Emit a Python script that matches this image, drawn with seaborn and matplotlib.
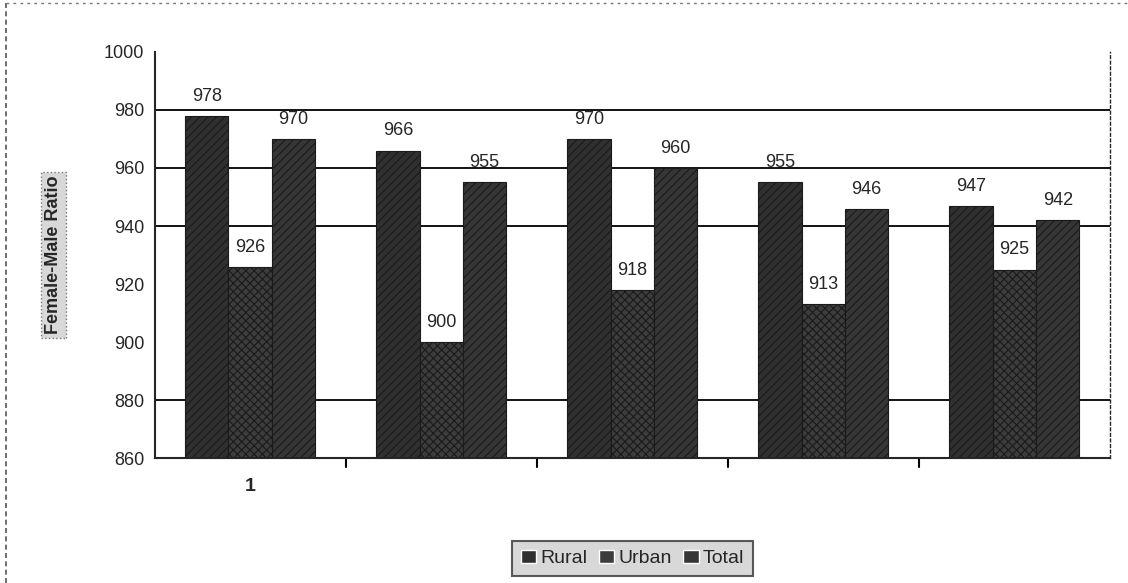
import matplotlib
matplotlib.use('Agg')
import matplotlib.pyplot as plt
import pandas as pd
import seaborn as sns

# data
groups = ['1', '2', '3', '4', '5']
rural = [978, 966, 970, 955, 947]
urban = [926, 900, 918, 913, 925]
total = [970, 955, 960, 946, 942]
series = ['Rural', 'Urban', 'Total']

df = pd.DataFrame({
    'group': groups * 3,
    'kind': [s for s in series for _ in groups],
    'ratio': rural + urban + total,
})

sns.set_style('white')
plt.rcParams['font.family'] = ['Liberation Sans', 'DejaVu Sans']
plt.rcParams['hatch.color'] = '#c4c4c4'
plt.rcParams['hatch.linewidth'] = 0.8

fig = plt.figure(figsize=(11.28, 5.83), dpi=100)
ax = fig.add_axes([0.137, 0.214, 0.847, 0.697])

# gridlines (only the ones visible in the scan)
for g in [980, 960, 940, 880]:
    ax.axhline(g, color='black', lw=1.3, zorder=0)

sns.barplot(data=df, x='group', y='ratio', hue='kind', hue_order=series,
            palette=['#303030', '#3c3c3c', '#363636'], width=0.68,
            saturation=1, ax=ax, zorder=2)

hatches = ['////', 'xxxx', '////']
for cont, h in zip(ax.containers, hatches):
    for bar in cont:
        bar.set_hatch(h)
        bar.set_edgecolor('#1a1a1a')
        bar.set_linewidth(0.8)
    ax.bar_label(cont, fmt='%d', padding=8, fontsize=13)

ax.set_ylim(860, 1000)
ax.set_yticks(range(860, 1001, 20))
ax.set_xlim(-0.5, 4.5)
ax.set_xticks([0])
ax.set_xticklabels(['1'], fontsize=14, fontweight='bold')
ax.tick_params(axis='y', labelsize=13, direction='inout', length=8, width=1.3)
ax.tick_params(axis='x', length=0, pad=14)
for xb in [0.5, 1.5, 2.5, 3.5]:
    ax.plot([xb, xb], [860, 857], color='black', lw=1.5, clip_on=False)

ax.set_xlabel('')
ax.set_ylabel('Female-Male Ratio', fontsize=13, fontweight='bold', labelpad=30,
              bbox=dict(boxstyle='square,pad=0.2', facecolor='#d8d8d8',
                        edgecolor='#777777', linestyle=':'))

ax.spines['top'].set_visible(False)
ax.spines['right'].set_linestyle((0, (2, 2)))
ax.spines['right'].set_linewidth(1)
ax.spines['left'].set_linewidth(1.5)
ax.spines['bottom'].set_linewidth(1.5)

leg = ax.legend(loc='upper center', bbox_to_anchor=(0.5, -0.18), ncol=3,
                frameon=True, fontsize=14, handlelength=0.8, handletextpad=0.2,
                columnspacing=0.6, borderpad=0.45, fancybox=False)
leg.get_frame().set_facecolor('#cfcfcf')
leg.get_frame().set_edgecolor('#333333')
leg.get_frame().set_linewidth(1.5)

# dotted outer border on the left and top of the page
fig.add_artist(plt.Line2D([0.005, 0.005], [0.0, 0.995], color='#555555',
                          lw=1.2, linestyle=(0, (3, 2))))
fig.add_artist(plt.Line2D([0.005, 1.0], [0.995, 0.995], color='#777777',
                          lw=1.0, linestyle=(0, (2, 3))))

fig.savefig('out.png', dpi=100)
